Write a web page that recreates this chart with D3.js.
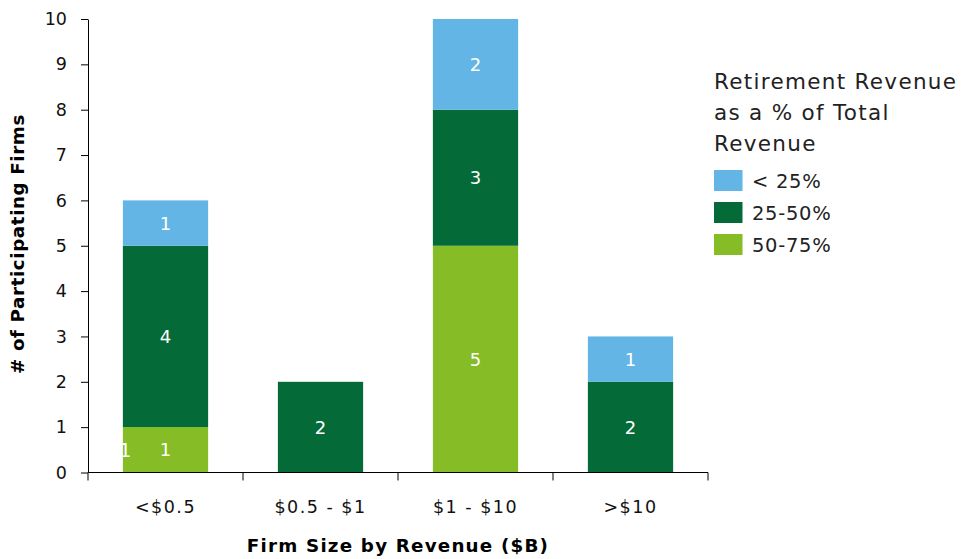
<!DOCTYPE html>
<html><head><meta charset="utf-8">
<script src="https://cdn.jsdelivr.net/npm/d3@7"></script>
<style>body{margin:0;background:#fff}svg{display:block}text{font-family:"DejaVu Sans",Verdana,sans-serif}</style>
</head><body><svg id="c" width="963" height="559"></svg>
<script>
const categories = ["<$0.5", "$0.5 - $1", "$1 - $10", ">$10"];
const seriesNames = ["50-75%", "25-50%", "< 25%"];
const s5075 = [1, 0, 5, 0];
const s2550 = [4, 2, 3, 2];
const sLt25 = [1, 0, 2, 1];
const yTicks = [0,1,2,3,4,5,6,7,8,9,10];
const colors = {"< 25%":"#62B5E5","25-50%":"#046A38","50-75%":"#86BC25"};
const legendOrder = ["< 25%", "25-50%", "50-75%"];
const legendTitle = ["Retirement Revenue", "as a % of Total", "Revenue"];
const xTitle = "Firm Size by Revenue ($B)";
const yTitle = "# of Participating Firms";

const rows = categories.map((c,i)=>({cat:c,"50-75%":s5075[i],"25-50%":s2550[i],"< 25%":sLt25[i]}));
const stack = d3.stack().keys(seriesNames)(rows);

const svg = d3.select("#c");
const x = d3.scaleBand().domain(categories).range([88,708]).paddingInner(0.45).paddingOuter(0.225);
const y = d3.scaleLinear().domain([0,10]).range([472.5,19]);

// bars
const g = svg.append("g");
stack.forEach(layer=>{
  const key = layer.key;
  layer.forEach((d,i)=>{
    if (d[1]-d[0] <= 0) return;
    g.append("rect").attr("x",x(categories[i])).attr("width",x.bandwidth())
      .attr("y",y(d[1])).attr("height",y(d[0])-y(d[1])).attr("fill",colors[key]);
    g.append("text").attr("x",x(categories[i])+x.bandwidth()/2).attr("y",(y(d[0])+y(d[1]))/2)
      .attr("dy","0.36em").attr("text-anchor","middle").attr("fill","#fff").attr("font-size",18)
      .text(d[1]-d[0]);
  });
});
// stray label at left edge of first bar
g.append("text").attr("x",x(categories[0])+2.5).attr("y",(y(0)+y(1))/2).attr("dy","0.36em")
  .attr("text-anchor","middle").attr("fill","#fff").attr("font-size",19).text(s5075[0]);

// y axis
const ya = svg.append("g").attr("transform","translate(88,0)")
  .call(d3.axisLeft(y).tickValues(yTicks).tickSize(7).tickPadding(14).tickSizeOuter(0));
ya.select(".domain").attr("stroke","#000");
ya.selectAll("text").attr("font-size",17.5).attr("fill","#111").style("font-family","DejaVu Sans, Verdana, sans-serif");

// x axis
const xa = svg.append("g").attr("transform","translate(0,472.5)");
xa.append("line").attr("x1",88).attr("x2",708).attr("stroke","#000");
const bounds = [88].concat(categories.map(c=>x(c)-x.step()*x.paddingInner()/2 + x.step()));
bounds.forEach(b=>xa.append("line").attr("x1",b).attr("x2",b).attr("y1",0).attr("y2",8).attr("stroke","#000"));
categories.forEach(c=>xa.append("text").attr("x",x(c)+x.bandwidth()/2).attr("y",34)
  .attr("dy","0.36em").attr("text-anchor","middle").attr("font-size",17.5).attr("letter-spacing","1.5px")
  .attr("fill","#111").text(c));

// titles
svg.append("text").attr("x",398).attr("y",545).attr("dy","0.36em").attr("text-anchor","middle")
  .attr("font-size",18.3).attr("font-weight","bold").attr("letter-spacing","1.2px").attr("fill","#000").text(xTitle);
svg.append("text").attr("transform","translate(17,244) rotate(-90)").attr("dy","0.36em").attr("text-anchor","middle")
  .attr("font-size",18.3).attr("font-weight","bold").attr("letter-spacing","0.6px").attr("fill","#000").text(yTitle);

// legend
const lg = svg.append("g");
legendTitle.forEach((t,i)=>lg.append("text").attr("x",714).attr("y",88.5+i*31)
  .attr("font-size",21.5).attr("letter-spacing","1.3px").attr("fill","#222").text(t));
legendOrder.forEach((k,i)=>{
  lg.append("rect").attr("x",714).attr("y",170+i*32).attr("width",28.5).attr("height",21).attr("fill",colors[k]);
  lg.append("text").attr("x",752).attr("y",181+i*32).attr("dy","0.36em").attr("font-size",19.5)
    .attr("letter-spacing","0.7px").attr("fill","#222").text(k);
});
</script></body></html>
